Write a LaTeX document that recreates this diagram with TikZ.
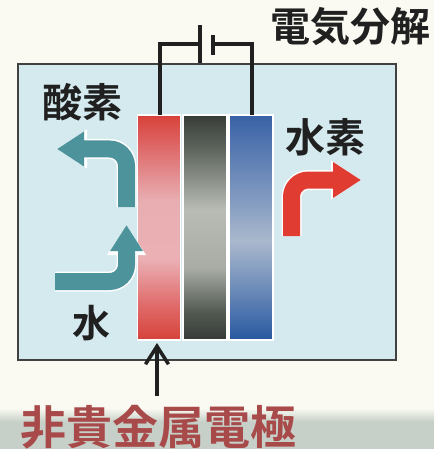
\documentclass[tikz,border=0pt]{standalone}
\usepackage{fontspec}
\usetikzlibrary{arrows.meta}
\newfontfamily\cjk{Noto Sans CJK JP}[BoldFont={Noto Sans CJK JP Bold}]

\definecolor{paper}{HTML}{FAFAF2}
\definecolor{band}{HTML}{C6D0C8}
\definecolor{tank}{HTML}{D4EAEE}
\definecolor{ink}{HTML}{202020}
\definecolor{label}{HTML}{A84A4A}
\definecolor{teal}{HTML}{4D939B}
\definecolor{hot}{HTML}{E03C32}

% electrode shadings: the path spans 25bp (bottom) to 75bp (top)
\pgfdeclareverticalshading{redshade}{100bp}{%
  color(0bp)=(rgb,255:red,214;green,66;blue,58);
  color(25bp)=(rgb,255:red,214;green,66;blue,58);
  color(33bp)=(rgb,255:red,224;green,108;blue,108);
  color(43bp)=(rgb,255:red,234;green,176;blue,180);
  color(56bp)=(rgb,255:red,232;green,174;blue,178);
  color(68bp)=(rgb,255:red,222;green,104;blue,104);
  color(75bp)=(rgb,255:red,215;green,66;blue,58);
  color(100bp)=(rgb,255:red,215;green,66;blue,58)}
\pgfdeclareverticalshading{greyshade}{100bp}{%
  color(0bp)=(rgb,255:red,56;green,58;blue,56);
  color(25bp)=(rgb,255:red,56;green,58;blue,56);
  color(31bp)=(rgb,255:red,80;green,88;blue,80);
  color(41bp)=(rgb,255:red,168;green,172;blue,164);
  color(54bp)=(rgb,255:red,184;green,188;blue,180);
  color(67bp)=(rgb,255:red,96;green,104;blue,96);
  color(75bp)=(rgb,255:red,56;green,60;blue,56);
  color(100bp)=(rgb,255:red,56;green,60;blue,56)}
\pgfdeclareverticalshading{blueshade}{100bp}{%
  color(0bp)=(rgb,255:red,40;green,88;blue,160);
  color(25bp)=(rgb,255:red,40;green,88;blue,160);
  color(36bp)=(rgb,255:red,106;green,138;blue,184);
  color(47bp)=(rgb,255:red,170;green,184;blue,204);
  color(57bp)=(rgb,255:red,127;green,152;blue,192);
  color(75bp)=(rgb,255:red,56;green,98;blue,166);
  color(100bp)=(rgb,255:red,56;green,98;blue,166)}

\tikzset{
  electrode/.style={rectangle, draw=white, line width=1.5pt, inner sep=0pt,
    outer sep=0pt, minimum height=225pt},
  wire/.style={draw=ink, line width=3.5pt},
  title/.style={font=\cjk\bfseries\fontsize{40}{44}\selectfont, text=ink, inner sep=0pt},
  flow/.style={line width=17pt, rounded corners=17pt,
    preaction={draw=white, line width=20pt, -{Triangle[width=37pt,length=30pt]}}},
}

\begin{document}
\begin{tikzpicture}[x=1pt, y=-1pt]
  \useasboundingbox (0,0) rectangle (434,449);
  % paper and the grey strip along the bottom edge
  \fill[paper] (0,0) rectangle (434,449);
  \shade[top color=paper, bottom color=band] (0,408) rectangle (434,422);
  \fill[band] (0,422) rectangle (434,449);

  % electrolysis tank
  \node[rectangle, fill=tank, draw=ink!85, line width=2.6pt, inner sep=0pt,
        minimum width=378pt, minimum height=296pt] (tank) at (207,212) {};

  % anode, membrane, cathode
  \node[electrode, shading=redshade, minimum width=43pt] (anode) at (159,227.5) {};
  \node[electrode, shading=greyshade, minimum width=44pt] (membrane) at (205,227.5) {};
  \node[electrode, shading=blueshade, minimum width=44pt] (cathode) at (251,227.5) {};

  % power source: long and short plates
  \coordinate (plusTop) at (200,25);
  \coordinate (plusBot) at (200,63);
  \coordinate (minusTop) at (213,35);
  \coordinate (minusBot) at (213,55);
  \coordinate (plusMid) at (200,44);
  \coordinate (minusMid) at (213,44);
  \draw[wire] (plusTop) -- (plusBot);
  \draw[wire] (minusTop) -- (minusBot);
  \draw[wire] (anode.north -| 160,0) |- (plusMid);
  \draw[wire] (cathode.north -| 252,0) |- (minusMid);

  % labels
  \node[title] (elec) at (350,27) {電気分解};
  \node[title] (oxy) at (82,102) {酸素};
  \node[title] (hyd) at (325,137) {水素};
  \node[title, font=\cjk\bfseries\fontsize{38}{42}\selectfont] (water) at (91,323) {水};
  \node[title, text=label, font=\cjk\bfseries\fontsize{46}{50}\selectfont] (mat) at (158,427) {非貴金属電極};

  % gas and water flows
  \coordinate (oxyStart) at (126.5,207);
  \coordinate (oxyBend) at (126.5,149);
  \coordinate (oxyEnd) at (57,149);
  \draw[flow, teal, -{Triangle[width=33pt,length=27pt]}] (oxyStart) -- (oxyBend) -- (oxyEnd);

  \coordinate (watStart) at (55,281.5);
  \coordinate (watBend) at (126.5,281.5);
  \coordinate (watEnd) at (126.5,225);
  \draw[flow, teal, -{Triangle[width=31pt,length=26pt]}] (watStart) -- (watBend) -- (watEnd);

  \coordinate (hydStart) at (291.5,236);
  \coordinate (hydBend) at (291.5,180);
  \coordinate (hydEnd) at (361,180);
  \draw[flow, hot, -{Triangle[width=34pt,length=28pt]}] (hydStart) -- (hydBend) -- (hydEnd);

  % pointer to the electrode
  \coordinate (ptr) at (157,396);
  \coordinate (ptrTip) at (anode.south -| ptr);
  \draw[ink, line width=3.5pt, -{Straight Barb[length=18pt,width=23pt,line width=3.5pt]}]
    (ptr) -- ([yshift=-3pt]ptrTip);
\end{tikzpicture}
\end{document}
